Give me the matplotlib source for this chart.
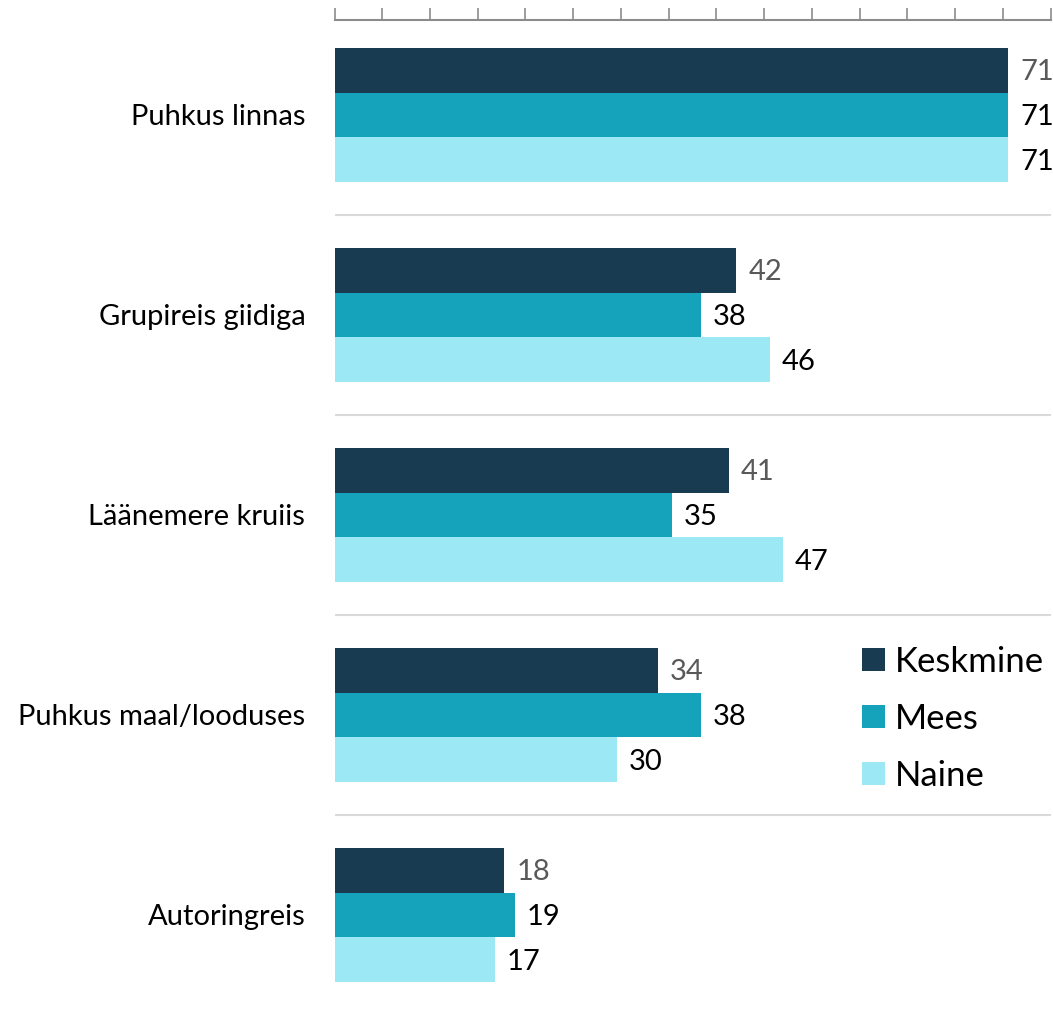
import matplotlib.pyplot as plt
from matplotlib.patches import Patch

plt.rcParams['font.family'] = ['Lato', 'DejaVu Sans']

categories = ['Puhkus linnas', 'Grupireis giidiga', 'Läänemere kruiis', 'Puhkus maal/looduses', 'Autoringreis']
# values (labels show them rounded)
keskmine = [70.6, 42.1, 41.3, 33.9, 17.8]
mees = [70.6, 38.4, 35.4, 38.4, 18.9]
naine = [70.6, 45.6, 47.0, 29.6, 16.8]
series_names = ['Keskmine', 'Mees', 'Naine']
colors = ['#183B51', '#15A3BC', '#9DE8F5']
label_colors = ['#595959', '#000000', '#000000']

fig = plt.figure(figsize=(10.53, 10.14), dpi=100)
ax = fig.add_axes([334.5 / 1053, 0, 716 / 1053, 1 - 20 / 1014])

h = 0.223
fs = 21
for i, (vals, c, lc) in enumerate(zip([keskmine, mees, naine], colors, label_colors)):
    ys = [k + (i - 1) * h for k in range(len(categories))]
    ax.barh(ys, vals, height=h, color=c, edgecolor='none')
    for y, v in zip(ys, vals):
        ax.annotate(f'{v:.0f}', (v, y), xytext=(8.5, -1.5), textcoords='offset points',
                    ha='left', va='center', fontsize=fs, color=lc)

for k in range(len(categories) - 1):
    ax.axhline(k + 0.5, color='#d9d9d9', lw=1.5)

ax.set_xlim(0, 75)
ax.set_ylim(4.495, -0.475)
ax.set_xticks(range(0, 76, 5))
ax.xaxis.tick_top()
ax.tick_params(axis='x', length=9, width=1.2, color='#8c8c8c', labeltop=False)
ax.set_yticks(range(len(categories)))
ax.set_yticklabels(categories, fontsize=fs)
ax.tick_params(axis='y', length=0, pad=21)
for s in ['left', 'right', 'bottom']:
    ax.spines[s].set_visible(False)
ax.spines['top'].set_color('#8c8c8c')
ax.spines['top'].set_linewidth(1.5)

handles = [Patch(facecolor=c, edgecolor='none', label=n) for c, n in zip(colors, series_names)]
fig.legend(handles=handles, loc='upper left', bbox_to_anchor=(862 / 1053, 1 - 646 / 1014),
           frameon=False, fontsize=25, handlelength=0.65, handleheight=0.65,
           handletextpad=0.3, labelspacing=0.72, borderpad=0, borderaxespad=0)

fig.savefig('out.png', dpi=100)
